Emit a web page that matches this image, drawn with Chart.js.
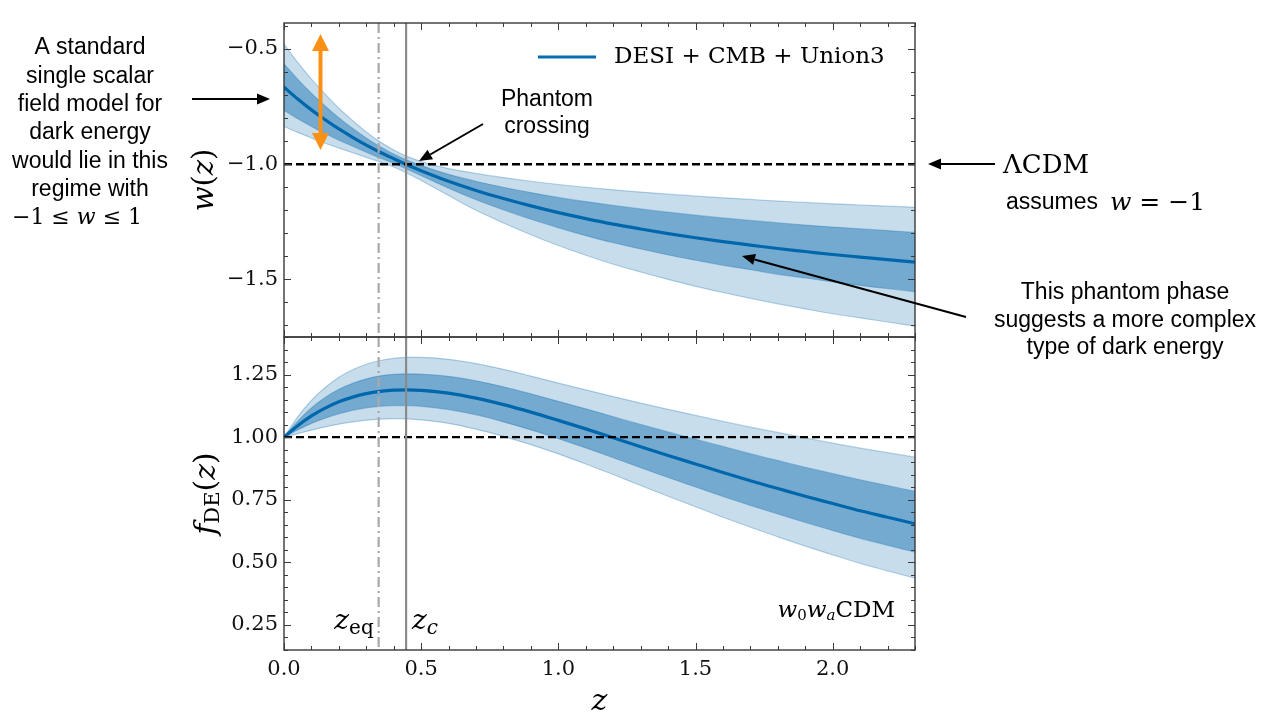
<!DOCTYPE html>
<html>
<head>
<meta charset="utf-8">
<title>w(z) and f_DE(z) for w0waCDM</title>
<script src="https://cdn.jsdelivr.net/npm/chart.js@4.4.1/dist/chart.umd.min.js"></script>
<style>
  html, body { margin: 0; padding: 0; background: #fff; }
  #wrap { position: relative; width: 1280px; height: 726px; }
  #wrap canvas { position: absolute; left: 0; top: 0; }
</style>
</head>
<body>
<div id="wrap">
  <canvas id="fChart" width="1280" height="726"></canvas>
  <canvas id="wChart" width="1280" height="726"></canvas>
</div>
<script>
// redshift grid
const Z = [0, 0.05, 0.1, 0.15, 0.2, 0.25, 0.3, 0.35, 0.4, 0.45, 0.5, 0.6, 0.7, 0.8, 0.9,
  1.0, 1.1, 1.2, 1.3, 1.4, 1.5, 1.6, 1.7, 1.8, 1.9, 2.0, 2.1, 2.2, 2.3];

// w(z): median and 1/2 sigma envelopes
const W_MID = [-0.665, -0.717, -0.764, -0.807, -0.847, -0.883, -0.917, -0.948, -0.976, -1.003,
  -1.028, -1.074, -1.114, -1.149, -1.181, -1.210, -1.236, -1.260, -1.281, -1.301,
  -1.319, -1.336, -1.351, -1.366, -1.379, -1.392, -1.403, -1.414, -1.425];
const W_HI1 = [-0.564, -0.631, -0.692, -0.747, -0.798, -0.844, -0.886, -0.923, -0.956, -0.983,
  -1.006, -1.044, -1.074, -1.100, -1.123, -1.144, -1.162, -1.179, -1.194, -1.208,
  -1.221, -1.233, -1.244, -1.254, -1.264, -1.273, -1.280, -1.288, -1.296];
const W_LO1 = [-0.766, -0.803, -0.836, -0.867, -0.896, -0.922, -0.948, -0.973, -0.996, -1.023,
  -1.050, -1.104, -1.154, -1.198, -1.239, -1.276, -1.310, -1.341, -1.368, -1.394,
  -1.417, -1.439, -1.458, -1.478, -1.494, -1.511, -1.526, -1.540, -1.554];
const W_HI2 = [-0.479, -0.558, -0.631, -0.696, -0.757, -0.810, -0.860, -0.903, -0.938, -0.967,
  -0.988, -1.019, -1.040, -1.058, -1.074, -1.088, -1.100, -1.111, -1.121, -1.130,
  -1.138, -1.146, -1.153, -1.160, -1.166, -1.172, -1.177, -1.182, -1.187];
const W_LO2 = [-0.836, -0.862, -0.886, -0.909, -0.930, -0.950, -0.970, -0.990, -1.012, -1.039,
  -1.071, -1.136, -1.200, -1.255, -1.306, -1.353, -1.395, -1.434, -1.468, -1.500,
  -1.530, -1.557, -1.582, -1.606, -1.628, -1.649, -1.667, -1.685, -1.703];

// f_DE(z): median and 1/2 sigma envelopes
const F_MID = [1.000, 1.046, 1.085, 1.116, 1.141, 1.160, 1.174, 1.183, 1.188, 1.189,
  1.187, 1.176, 1.156, 1.130, 1.100, 1.067, 1.033, 0.998, 0.962, 0.927,
  0.893, 0.859, 0.826, 0.795, 0.764, 0.735, 0.706, 0.680, 0.654];
const F_HI1 = [1.000, 1.064, 1.117, 1.158, 1.191, 1.215, 1.233, 1.245, 1.251, 1.253,
  1.252, 1.243, 1.225, 1.201, 1.173, 1.143, 1.113, 1.082, 1.051, 1.021,
  0.992, 0.963, 0.934, 0.907, 0.880, 0.855, 0.830, 0.807, 0.784];
const F_LO1 = [1.000, 1.029, 1.055, 1.076, 1.093, 1.107, 1.117, 1.123, 1.126, 1.126,
  1.123, 1.110, 1.089, 1.061, 1.029, 0.994, 0.957, 0.918, 0.878, 0.839,
  0.801, 0.763, 0.727, 0.693, 0.659, 0.627, 0.596, 0.568, 0.541];
const F_HI2 = [1.000, 1.081, 1.147, 1.198, 1.239, 1.269, 1.291, 1.306, 1.315, 1.319,
  1.319, 1.311, 1.294, 1.271, 1.244, 1.216, 1.189, 1.162, 1.136, 1.111,
  1.087, 1.063, 1.040, 1.019, 0.997, 0.976, 0.956, 0.938, 0.920];
const F_LO2 = [1.000, 1.014, 1.028, 1.041, 1.052, 1.061, 1.068, 1.072, 1.074, 1.073,
  1.069, 1.055, 1.032, 1.003, 0.970, 0.933, 0.893, 0.851, 0.807, 0.764,
  0.722, 0.680, 0.640, 0.602, 0.565, 0.530, 0.496, 0.466, 0.437];

// axes
const Z_TICKS = [0, 0.5, 1.0, 1.5, 2.0];
const W_TICKS = [-1.5, -1.0, -0.5];
const F_TICKS = [0.25, 0.5, 0.75, 1.0, 1.25];
const Z_RANGE = [0, 2.3];
const W_RANGE = [-1.75, -0.387];
const F_RANGE = [0.15, 1.40];

// reference values
const W_LCDM = -1;
const F_LCDM = 1;
const Z_EQ = 0.345;
const Z_C = 0.445;

const BLUE = "rgb(0, 108, 178)";
const FILL_2S = "rgba(0, 100, 170, 0.22)";
const FILL_1S = "rgba(0, 100, 170, 0.42)";
const EDGE = "rgba(0, 100, 170, 0.28)";
const FRAME = "#3a3a3a";
const SERIF = '"DejaVu Serif", serif';
const SANS = '"Liberation Sans", Arial, sans-serif';
const rm = (px) => `${px}px ${SERIF}`;
const it = (px) => `italic ${px}px ${SERIF}`;
const sans = (px) => `${px}px ${SANS}`;

const pts = (ys) => Z.map((z, i) => ({ x: z, y: ys[i] }));
const minus = (s) => s.replace("-", "\u2212");

function bandSets(hi2, hi1, mid, lo1, lo2) {
  const edge = { borderColor: EDGE, borderWidth: 1.2, pointRadius: 0, cubicInterpolationMode: "monotone" };
  return [
    { ...edge, data: pts(hi2), fill: "+1", backgroundColor: FILL_2S },
    { ...edge, data: pts(lo2), fill: false },
    { ...edge, data: pts(hi1), fill: "+1", backgroundColor: FILL_1S },
    { ...edge, data: pts(lo1), fill: false },
    { data: pts(mid), borderColor: BLUE, borderWidth: 3.2, pointRadius: 0, fill: false, cubicInterpolationMode: "monotone" },
  ];
}

// text made of pieces with different fonts (math-like labels)
function drawRuns(ctx, runs, x, y, align) {
  let total = 0;
  runs.forEach((r) => {
    ctx.font = r.font;
    r.w = ctx.measureText(r.text).width;
    total += r.w;
  });
  let cx = align === "center" ? x - total / 2 : align === "right" ? x - total : x;
  ctx.textAlign = "left";
  ctx.textBaseline = "middle";
  runs.forEach((r) => {
    ctx.font = r.font;
    ctx.fillText(r.text, cx, y + (r.dy || 0));
    cx += r.w;
  });
}

function arrow(ctx, x1, y1, x2, y2, color, width, headLen, headW) {
  const ang = Math.atan2(y2 - y1, x2 - x1);
  const bx = x2 - headLen * Math.cos(ang);
  const by = y2 - headLen * Math.sin(ang);
  ctx.save();
  ctx.strokeStyle = color;
  ctx.fillStyle = color;
  ctx.lineWidth = width;
  ctx.beginPath();
  ctx.moveTo(x1, y1);
  ctx.lineTo(bx, by);
  ctx.stroke();
  ctx.beginPath();
  ctx.moveTo(x2, y2);
  ctx.lineTo(bx + (headW / 2) * Math.sin(ang), by - (headW / 2) * Math.cos(ang));
  ctx.lineTo(bx - (headW / 2) * Math.sin(ang), by + (headW / 2) * Math.cos(ang));
  ctx.closePath();
  ctx.fill();
  ctx.restore();
}

function drawTicks(chart, yStep) {
  const { ctx, chartArea: a, scales: { x, y } } = chart;
  const isMajor = (list, v) => list.some((m) => Math.abs(m - v) < 1e-6);
  const yMajor = y.ticks.map((t) => t.value);
  ctx.save();
  ctx.strokeStyle = FRAME;
  ctx.lineWidth = 1;
  ctx.beginPath();
  for (let i = Math.ceil(x.min / 0.1 - 1e-6); i * 0.1 <= x.max + 1e-6; i++) {
    const v = i * 0.1;
    const len = isMajor(Z_TICKS, v) ? 7 : 4;
    const px = Math.round(x.getPixelForValue(v)) + 0.5;
    ctx.moveTo(px, a.bottom);
    ctx.lineTo(px, a.bottom - len);
    ctx.moveTo(px, a.top);
    ctx.lineTo(px, a.top + len);
  }
  for (let i = Math.ceil(y.min / yStep - 1e-6); i * yStep <= y.max + 1e-6; i++) {
    const v = i * yStep;
    const len = isMajor(yMajor, v) ? 7 : 4;
    const py = Math.round(y.getPixelForValue(v)) + 0.5;
    ctx.moveTo(a.left, py);
    ctx.lineTo(a.left + len, py);
    ctx.moveTo(a.right, py);
    ctx.lineTo(a.right - len, py);
  }
  ctx.stroke();
  ctx.lineWidth = 1.4;
  ctx.strokeRect(a.left, a.top, a.right - a.left, a.bottom - a.top);
  ctx.restore();
}

const decorPlugin = {
  id: "decor",
  afterDatasetsDraw(chart, args, opts) {
    const { ctx, chartArea: a, scales: { x, y } } = chart;
    ctx.save();
    ctx.beginPath();
    ctx.rect(a.left, a.top, a.right - a.left, a.bottom - a.top);
    ctx.clip();

    // LCDM reference
    const ry = y.getPixelForValue(opts.ref);
    ctx.strokeStyle = "#000";
    ctx.lineWidth = 2.4;
    ctx.setLineDash([8, 4]);
    ctx.beginPath();
    ctx.moveTo(a.left, ry);
    ctx.lineTo(a.right, ry);
    ctx.stroke();

    // z_eq and z_c
    ctx.strokeStyle = "#a9a9a9";
    ctx.lineWidth = 2.2;
    ctx.setLineDash([10, 4, 2, 4]);
    ctx.beginPath();
    ctx.moveTo(x.getPixelForValue(Z_EQ), a.top);
    ctx.lineTo(x.getPixelForValue(Z_EQ), a.bottom);
    ctx.stroke();
    ctx.strokeStyle = "#8a8a8a";
    ctx.setLineDash([]);
    ctx.beginPath();
    ctx.moveTo(x.getPixelForValue(Z_C), a.top);
    ctx.lineTo(x.getPixelForValue(Z_C), a.bottom);
    ctx.stroke();
    ctx.restore();

    drawTicks(chart, opts.minorStep);
  },
  afterDraw(chart, args, opts) {
    const { ctx, chartArea: a } = chart;
    const midY = (a.top + a.bottom) / 2;
    ctx.save();
    ctx.fillStyle = "#000";

    if (opts.kind === "w") {
      // y title
      ctx.save();
      ctx.translate(205, midY);
      ctx.rotate(-Math.PI / 2);
      drawRuns(ctx, [
        { text: "w", font: it(29) }, { text: "(", font: rm(29) },
        { text: "z", font: it(29) }, { text: ")", font: rm(29) },
      ], 0, 0, "center");
      ctx.restore();

      // legend
      ctx.strokeStyle = BLUE;
      ctx.lineWidth = 3.2;
      ctx.beginPath();
      ctx.moveTo(538, 57);
      ctx.lineTo(596, 57);
      ctx.stroke();
      drawRuns(ctx, [{ text: "DESI + CMB + Union3", font: rm(23) }], 614, 57, "left");

      // left note
      const left = ["A standard", "single scalar", "field model for", "dark energy", "would lie in this", "regime with"];
      left.forEach((t, i) => drawRuns(ctx, [{ text: t, font: sans(23) }], 90, 48 + i * 28.3, "center"));
      drawRuns(ctx, [
        { text: "\u22121 \u2264 ", font: rm(22) }, { text: "w", font: it(22) },
        { text: " \u2264 1", font: rm(22) },
      ], 77, 218, "center");
      arrow(ctx, 192, 99, 270, 99, "#000", 2, 13, 11);

      // orange range arrow
      arrow(ctx, 320.5, 92, 320.5, 34, "rgb(250, 145, 20)", 4, 17, 17);
      arrow(ctx, 320.5, 92, 320.5, 150, "rgb(250, 145, 20)", 4, 17, 17);

      // phantom crossing
      drawRuns(ctx, [{ text: "Phantom", font: sans(23) }], 547, 100, "center");
      drawRuns(ctx, [{ text: "crossing", font: sans(23) }], 547, 127, "center");
      arrow(ctx, 483, 124, 419, 161, "#000", 2, 13, 11);

      // LCDM
      drawRuns(ctx, [{ text: "\u039BCDM", font: rm(26) }], 1003, 166, "left");
      arrow(ctx, 995, 164, 928, 164, "#000", 2, 13, 11);
      drawRuns(ctx, [{ text: "assumes", font: sans(23) }], 1006, 203, "left");
      drawRuns(ctx, [
        { text: "w", font: it(25) }, { text: " = \u22121", font: rm(25) },
      ], 1110, 203, "left");

      // phantom phase
      const right = ["This phantom phase", "suggests a more complex", "type of dark energy"];
      right.forEach((t, i) => drawRuns(ctx, [{ text: t, font: sans(23) }], 1125, 293 + i * 27.5, "center"));
      arrow(ctx, 966, 317, 742, 256, "#000", 2, 13, 11);
    } else {
      ctx.save();
      ctx.translate(207, midY);
      ctx.rotate(-Math.PI / 2);
      drawRuns(ctx, [
        { text: "f", font: it(30) }, { text: "DE", font: rm(21), dy: 7 },
        { text: "(", font: rm(30) }, { text: "z", font: it(30) }, { text: ")", font: rm(30) },
      ], 0, 0, "center");
      ctx.restore();

      drawRuns(ctx, [{ text: "z", font: it(30) }], (a.left + a.right) / 2, 702, "center");

      drawRuns(ctx, [
        { text: "z", font: it(28) }, { text: "eq", font: rm(20), dy: 7 },
      ], 354, 622, "center");
      drawRuns(ctx, [
        { text: "z", font: it(28) }, { text: "c", font: it(20), dy: 7 },
      ], 425, 622, "center");

      drawRuns(ctx, [
        { text: "w", font: it(23) }, { text: "0", font: rm(15), dy: 5 },
        { text: "w", font: it(23) }, { text: "a", font: it(15), dy: 5 },
        { text: "CDM", font: rm(23) },
      ], 895, 611, "right");
    }
    ctx.restore();
  },
};

function makeOptions(kind) {
  const isW = kind === "w";
  const yTicks = isW ? W_TICKS : F_TICKS;
  const yRange = isW ? W_RANGE : F_RANGE;
  return {
    responsive: false,
    animation: false,
    devicePixelRatio: 1,
    events: [],
    layout: {
      padding: isW
        ? { left: 0, right: 365, top: 23, bottom: 389 }
        : { left: 0, right: 365, top: 337, bottom: 0 },
    },
    scales: {
      x: {
        type: "linear",
        min: Z_RANGE[0],
        max: Z_RANGE[1],
        display: !isW,
        grid: { display: false, drawTicks: false },
        border: { display: false },
        afterBuildTicks: (s) => { s.ticks = Z_TICKS.map((v) => ({ value: v })); },
        afterFit: (s) => { s.height = isW ? 0 : 76; },
        ticks: {
          color: "#111",
          padding: 7,
          font: { family: SERIF, size: 21 },
          maxRotation: 0,
          callback: (v) => Number(v).toFixed(1),
        },
      },
      y: {
        type: "linear",
        min: yRange[0],
        max: yRange[1],
        grid: { display: false, drawTicks: false },
        border: { display: false },
        afterBuildTicks: (s) => { s.ticks = yTicks.map((v) => ({ value: v })); },
        afterFit: (s) => { s.width = 284; },
        ticks: {
          color: "#111",
          padding: 6,
          font: { family: SERIF, size: 21 },
          callback: (v) => minus(Number(v).toFixed(isW ? 1 : 2)),
        },
      },
    },
    plugins: {
      legend: { display: false },
      tooltip: { enabled: false },
      decor: isW
        ? { kind: "w", ref: W_LCDM, minorStep: 0.1 }
        : { kind: "f", ref: F_LCDM, minorStep: 0.05 },
    },
  };
}

new Chart(document.getElementById("fChart"), {
  type: "line",
  data: { datasets: bandSets(F_HI2, F_HI1, F_MID, F_LO1, F_LO2) },
  options: makeOptions("f"),
  plugins: [decorPlugin],
});

new Chart(document.getElementById("wChart"), {
  type: "line",
  data: { datasets: bandSets(W_HI2, W_HI1, W_MID, W_LO1, W_LO2) },
  options: makeOptions("w"),
  plugins: [decorPlugin],
});
</script>
</body>
</html>
